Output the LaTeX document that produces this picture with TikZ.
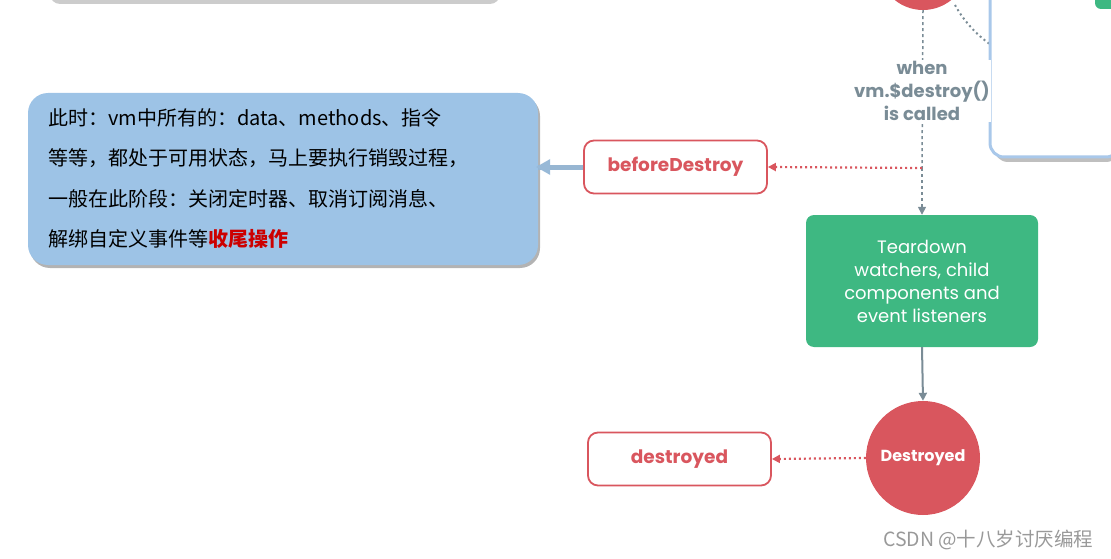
\documentclass[tikz,border=0pt]{standalone}
\usepackage{fontspec}
\setmainfont{Poppins}
\newfontfamily\cjk{Noto Sans CJK SC}
\usetikzlibrary{arrows.meta,shadows}
\definecolor{vred}{HTML}{D9565E}
\definecolor{vgreen}{HTML}{3EB882}
\definecolor{vgray}{HTML}{7A8C96}
\definecolor{cblue}{HTML}{9DC3E6}
\definecolor{bblue}{HTML}{A9C8EA}
\tikzset{
  hook/.style={draw=vred,line width=1.8pt,fill=white,rounded corners=10pt,minimum width=183pt,minimum height=53pt,font=\bfseries\fontsize{18.5}{22}\selectfont,text=vred},
  dotarrow/.style={vred,line width=2.2pt,dash pattern=on 2pt off 3pt,-{Triangle[length=8pt,width=8pt]}},
  grayarrow/.style={vgray,line width=2pt,-{Triangle[length=8pt,width=8pt]}},
}
\begin{document}
\begin{tikzpicture}[x=1pt,y=-1pt]
\useasboundingbox (0,0) rectangle (1111,559);
% top partial elements
\fill[gray!40,rounded corners=10pt] (50,-40) rectangle (500,4);
\fill[white,rounded corners=10pt] (45,-40) rectangle (495,-1);
\draw[vgray,line width=2pt,dash pattern=on 2pt off 3pt] (955,5) .. controls (985,60) and (1060,85) .. (1111,62);
\fill[gray!50,rounded corners=14pt] (994,-40) rectangle (1120,162);
\draw[bblue,line width=3pt,fill=white,rounded corners=14pt] (990,-40) rectangle (1120,157);
\fill[vgreen,rounded corners=6pt] (1095,-30) rectangle (1125,9);
\node[circle,fill=vred,minimum size=90pt] (top) at (923,-35) {};
% callout
\node[draw=none,fill=cblue,rounded corners=20pt,minimum width=510pt,minimum height=172pt,
  drop shadow={shadow xshift=2pt,shadow yshift=-3pt,opacity=0.6}] (call) at (283,179) {};
\node[anchor=north west,align=left,font=\cjk\fontsize{20}{40.5}\selectfont,inner sep=0pt] (ctext) at (48,108)
{此时：vm中所有的：data、methods、指令\\等等，都处于可用状态，马上要执行销毁过程，\\一般在此阶段：关闭定时器、取消订阅消息、\\解绑自定义事件等{\bfseries\color{red!80!black}收尾操作}};
% nodes
\node[hook] (bd) at (675.5,167) {beforeDestroy};
\node[fill=vgreen,rounded corners=8pt,minimum width=232pt,minimum height=132pt,text=white,align=center,font=\fontsize{18}{23}\selectfont] (tear) at (922,281) {Teardown\\watchers, child\\components and\\event listeners};
\node[circle,fill=vred,minimum size=114pt,text=white,font=\bfseries\fontsize{16}{19}\selectfont] (dd) at (923,458) {Destroyed};
\node[hook] (dest) at (679.5,459) {destroyed};
\coordinate (junc) at (922,168);
% connectors
\draw[vgray,line width=1.5pt,dashed] (top.south) -- (junc);
\draw[vgray,line width=1.5pt,dashed,-{Triangle[length=8pt,width=8pt]}] (junc) -- (tear.north);
\node[fill=white,text=vgray,align=center,font=\bfseries\fontsize{18}{23}\selectfont,inner sep=1pt] (when) at (922,91) {when\\vm.\$destroy()\\is called};
\draw[dotarrow] (junc) -- (bd.east);
\draw[grayarrow] (tear.south) -- (dd.north);
\draw[dotarrow] (dd.west) -- (dest.east);
\draw[line width=5pt,cblue!80!gray] (bd.west) -- (call.east |- bd.west);
\fill[cblue!85!gray] (call.east |- bd.west) ++(-2,0) -- ++(14,-8) -- ++(0,16) -- cycle;
\node[text=gray!80,font=\cjk\fontsize{19.5}{22}\selectfont,anchor=east] (wm) at (1097,540) {CSDN @十八岁讨厌编程};
\end{tikzpicture}
\end{document}
